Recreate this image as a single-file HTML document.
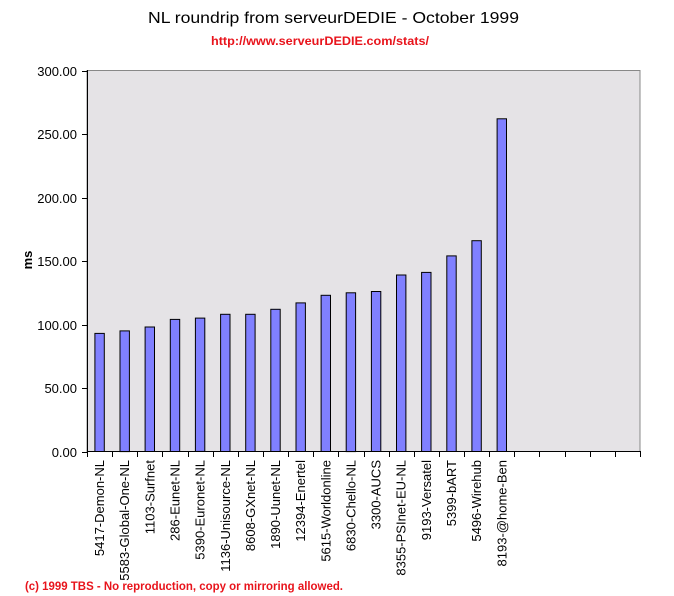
<!DOCTYPE html>
<html><head><meta charset="utf-8"><style>
body{margin:0;background:#fff}
svg{display:block}
text{font-family:"Liberation Sans",sans-serif}
</style></head><body>
<svg width="674" height="596" xmlns="http://www.w3.org/2000/svg">
<text x="333.5" y="23" text-anchor="middle" font-size="16" textLength="371" lengthAdjust="spacingAndGlyphs">NL roundrip from serveurDEDIE - October 1999</text>
<text x="320" y="45" text-anchor="middle" font-size="12" font-weight="bold" fill="#e8141c" textLength="218" lengthAdjust="spacingAndGlyphs">http://www.serveurDEDIE.com/stats/</text>
<rect x="87" y="70.5" width="553" height="381" fill="#e5e3e6" stroke="#888" stroke-width="1"/>
<g id="bars" fill="#8080ff" stroke="#000" stroke-width="1"></g>
<line x1="87.5" y1="70" x2="87.5" y2="452" stroke="#000"/>
<line x1="87" y1="451.5" x2="641" y2="451.5" stroke="#000"/>
<g id="ax" font-size="13"></g>
<text transform="translate(32,260) rotate(-90)" text-anchor="middle" font-size="13" font-weight="bold">ms</text>
<text x="25" y="590" font-size="12" font-weight="bold" fill="#e8141c" textLength="318" lengthAdjust="spacingAndGlyphs">(c) 1999 TBS - No reproduction, copy or mirroring allowed.</text>
</svg>
<script>
var ns="http://www.w3.org/2000/svg";
var vals=[93,95,98,104,105,108,108,112,117,123,125,126,139,141,154,166,262];
var names=["5417-Demon-NL","5583-Global-One-NL","1103-Surfnet","286-Eunet-NL","5390-Euronet-NL","1136-Unisource-NL","8608-GXnet-NL","1890-Uunet-NL","12394-Enertel","5615-Worldonline","6830-Chello-NL","3300-AUCS","8355-PSInet-EU-NL","9193-Versatel","5399-bART","5496-Wirehub","8193-@home-Ben"];
var x0=87,sw=553/22,y0=451.5,sc=381/300;
var bars=document.getElementById("bars"),ax=document.getElementById("ax");
function el(t,a,p,txt){var e=document.createElementNS(ns,t);for(var k in a)e.setAttribute(k,a[k]);if(txt)e.textContent=txt;p.appendChild(e);}
vals.forEach(function(v,i){var c=x0+sw*(i+0.5);var h=v*sc;
el("rect",{x:(c-4.7).toFixed(1),y:(y0-h).toFixed(1),width:9.4,height:h.toFixed(1)},bars);
el("text",{transform:"translate("+(c+4.5).toFixed(1)+",460) rotate(-90)","text-anchor":"end"},ax,names[i]);});
for(var k=0;k<=22;k++){var x=Math.round(x0+sw*k)+0.5;el("line",{x1:x,y1:451,x2:x,y2:457,stroke:"#000"},ax);}
for(var j=0;j<=6;j++){var y=Math.round(y0-j*50*sc)+0.5;el("line",{x1:82,y1:y,x2:88,y2:y,stroke:"#000"},ax);
el("text",{x:77,y:y+4.5,"text-anchor":"end"},ax,(j*50).toFixed(2));}
</script>
</body></html>
